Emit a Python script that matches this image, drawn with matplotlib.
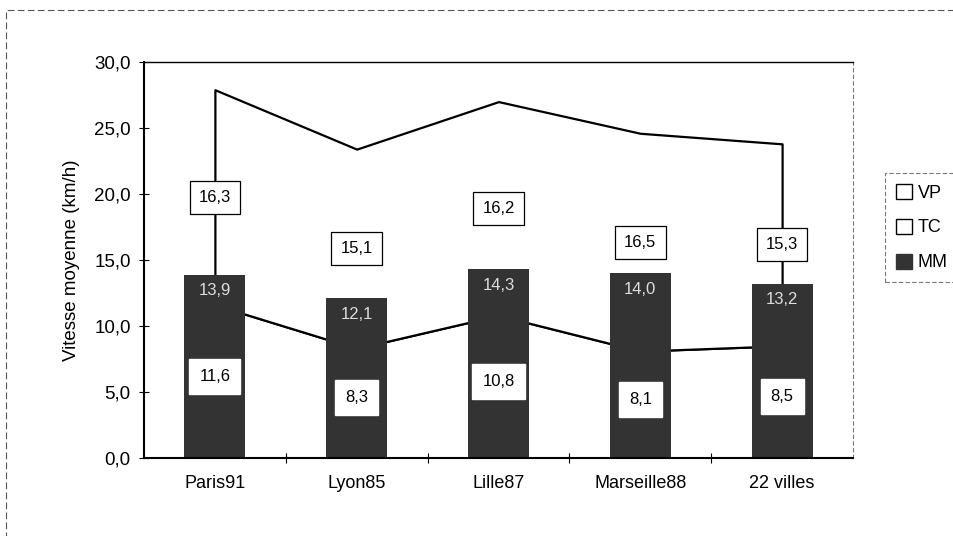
import matplotlib
matplotlib.use("Agg")
import matplotlib.pyplot as plt
from matplotlib.patches import Rectangle, Patch
import numpy as np

categories = ["Paris91", "Lyon85", "Lille87", "Marseille88", "22 villes"]
tc = [11.6, 8.3, 10.8, 8.1, 8.5]
vp = [16.3, 15.1, 16.2, 16.5, 15.3]
mm = [13.9, 12.1, 14.3, 14.0, 13.2]
yticks = [0, 5, 10, 15, 20, 25, 30]

plt.rcParams['font.family'] = ['Liberation Sans', 'DejaVu Sans']

fig = plt.figure(figsize=(9.54, 5.36), dpi=100)
ax = fig.add_axes([144/954, (536-458)/536, 709/954, 396/536])

x = np.arange(len(categories))
ax.stackplot(x, tc, vp, colors=['white', 'white'], edgecolor='black',
             linewidth=1.6, zorder=1)
bar_color = '#333333'
ax.bar(x, mm, width=0.43, color=bar_color, zorder=2)

# labels
for i in range(len(x)):
    ax.text(x[i], tc[i] / 2 + 0.4, f"{tc[i]:.1f}".replace('.', ','),
            ha='center', va='center', fontsize=12, zorder=4,
            bbox=dict(boxstyle='square,pad=0.6', fc='white', ec='white'))
    ax.text(x[i], tc[i] + vp[i] / 2, f"{vp[i]:.1f}".replace('.', ','),
            ha='center', va='center', fontsize=12, zorder=4,
            bbox=dict(boxstyle='square,pad=0.55', fc='white', ec='black', lw=0.9))
    ax.text(x[i], mm[i] - 1.2, f"{mm[i]:.1f}".replace('.', ','),
            ha='center', va='center', fontsize=12, color='#dddddd', zorder=4)

ax.set_xlim(-0.5, len(categories) - 0.5)
ax.set_ylim(0, 30)
ax.set_yticks(yticks)
ax.set_yticklabels([f"{v:.1f}".replace('.', ',') for v in yticks], fontsize=13.5)
ax.set_xticks(x)
ax.set_xticklabels(categories, fontsize=13)
ax.tick_params(axis='x', which='major', length=0, pad=12)
ax.set_xticks(np.arange(0.5, len(categories) - 0.5, 1), minor=True)
ax.tick_params(axis='x', which='minor', direction='inout', length=7, width=0.8)
ax.tick_params(axis='y', direction='inout', length=7, width=0.8, pad=6)
ax.set_ylabel("Vitesse moyenne (km/h)", fontsize=13.5, labelpad=10)

for s in ['left', 'bottom']:
    ax.spines[s].set_linewidth(1.5)
ax.spines['top'].set_linewidth(1.0)
ax.spines['right'].set_linewidth(0.8)
ax.spines['right'].set_linestyle((0, (3, 3)))
ax.spines['right'].set_color('#777777')

handles = [Patch(fc='white', ec='black', lw=1.0, label='VP'),
           Patch(fc='white', ec='black', lw=1.0, label='TC'),
           Patch(fc=bar_color, ec=bar_color, label='MM')]
leg = fig.legend(handles=handles, loc='upper left',
                 bbox_to_anchor=(876/954, 1 - 164/536),
                 frameon=True, fancybox=False, fontsize=13,
                 handlelength=0.9, handleheight=0.9, handletextpad=0.3,
                 labelspacing=0.95, borderpad=0.6)
leg.get_frame().set_edgecolor('#555555')
leg.get_frame().set_linewidth(0.8)
leg.get_frame().set_linestyle((0, (4, 2)))

# outer figure frame
fig.patches.append(Rectangle((6/954, -0.1), 1.1, 1 - 10/536 + 0.1,
                             transform=fig.transFigure, fill=False,
                             ec='#555555', lw=0.8, ls=(0, (6, 3))))

fig.savefig("out.png", dpi=100)
